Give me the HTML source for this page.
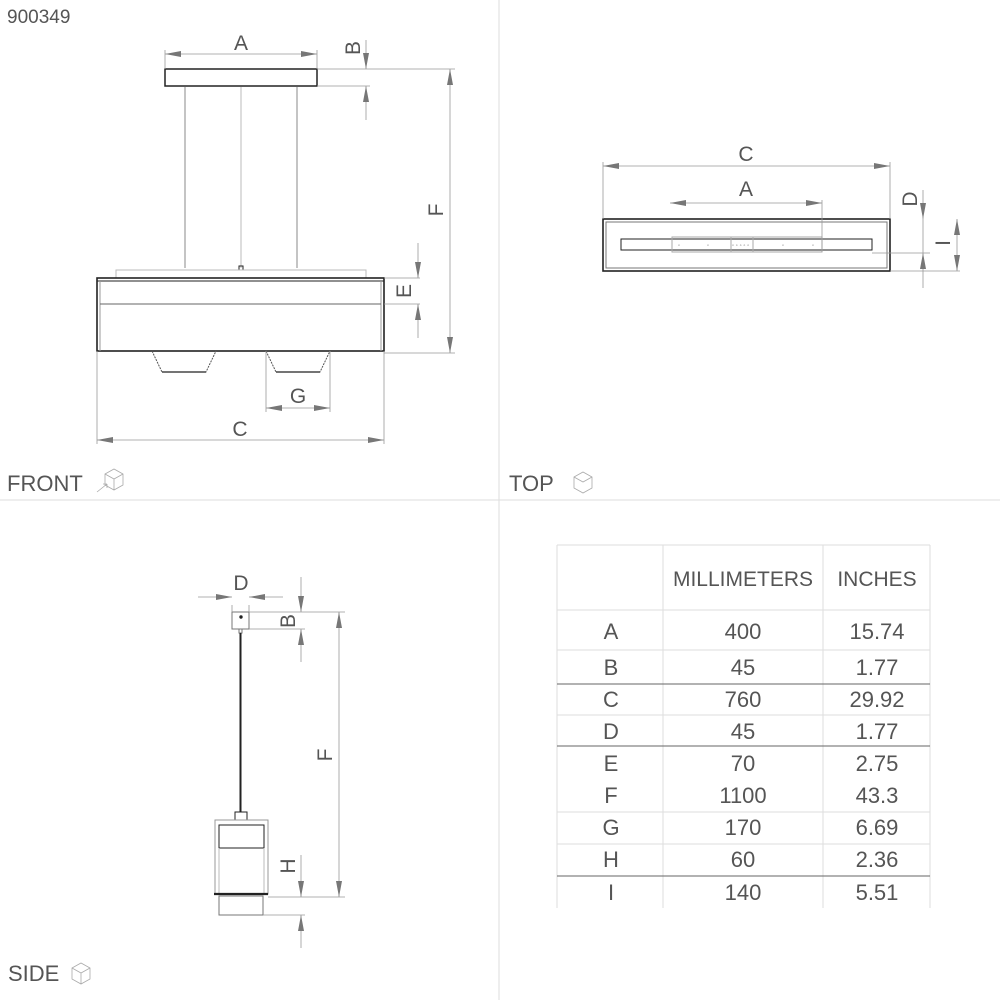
<!DOCTYPE html>
<html><head><meta charset="utf-8"><style>
html,body{margin:0;padding:0;background:#fff}
svg{display:block}
text{font-family:"Liberation Sans",sans-serif;fill:#555}
</style></head><body>
<svg width="1000" height="1000" viewBox="0 0 1000 1000" xmlns="http://www.w3.org/2000/svg">
<defs>
<marker id="ar" viewBox="0 0 16 8" refX="16" refY="4" markerWidth="16" markerHeight="8" markerUnits="userSpaceOnUse" orient="auto-start-reverse"><path d="M0,1 L16,4 L0,7 z" fill="#777"/></marker>
</defs>
<line x1="499" y1="0" x2="499" y2="1000" stroke="#ddd"/>
<line x1="0" y1="500" x2="1000" y2="500" stroke="#ddd"/>
<text x="7" y="23" font-size="19">900349</text>
<text x="7" y="491" font-size="22">FRONT</text>
<text x="509" y="491" font-size="22">TOP</text>
<text x="8" y="981" font-size="22">SIDE</text>
<g fill="none" stroke="#aaa" stroke-width="0.8">
<path d="M105,474 l9,-5 l9,5 v11 l-9,5 l-9,-5 z M105,474 l9,5 l9,-5 M114,479 v11"/>
<path d="M97,492 l10,-8 M107,484 h-4 M107,484 v4"/>
<path d="M574,477 l9,-5 l9,5 v11 l-9,5 l-9,-5 z M574,477 l9,5 l9,-5"/>
<path d="M72,968 l9,-5 l9,5 v11 l-9,5 l-9,-5 z M72,968 l9,5 l9,-5 M81,973 v11"/>
</g>

<g stroke="#222" fill="none">
<rect x="165" y="69" width="152" height="17" stroke-width="1.5"/>
<line x1="185" y1="87" x2="185" y2="268" stroke="#888"/>
<line x1="241" y1="87" x2="241" y2="268" stroke="#bbb"/>
<line x1="297" y1="87" x2="297" y2="268" stroke="#888"/>
<rect x="239" y="266" width="4" height="4" stroke-width="1"/>
<rect x="116" y="270" width="250" height="8" stroke="#bbb"/>
<rect x="97" y="278" width="287" height="73" stroke-width="1.6"/>
<line x1="97" y1="281" x2="384" y2="281" stroke-width="1"/>
<line x1="100" y1="281" x2="100" y2="351" stroke="#999"/>
<line x1="381" y1="281" x2="381" y2="351" stroke="#999"/>
<line x1="100" y1="304" x2="381" y2="304" stroke="#666"/>
<path d="M152,351 L162,372 H206 L216,351" stroke="#555" stroke-dasharray="2,1"/>
<line x1="162" y1="372" x2="206" y2="372" stroke-width="1.2"/>
<path d="M266,351 L276,372 H320 L330,351" stroke="#555" stroke-dasharray="2,1"/>
<line x1="276" y1="372" x2="320" y2="372" stroke-width="1.2"/>
</g>
<g stroke="#999" stroke-width="0.8" fill="none">
<line x1="165" y1="54" x2="317" y2="54" marker-start="url(#ar)" marker-end="url(#ar)"/>
<line x1="165" y1="50" x2="165" y2="69"/><line x1="317" y1="50" x2="317" y2="69"/>
<line x1="317" y1="69" x2="455" y2="69"/><line x1="317" y1="86" x2="370" y2="86"/>
<line x1="366" y1="40" x2="366" y2="69" marker-end="url(#ar)"/>
<line x1="366" y1="120" x2="366" y2="86" marker-end="url(#ar)"/>
<line x1="450" y1="69" x2="450" y2="353" marker-start="url(#ar)" marker-end="url(#ar)"/>
<line x1="384" y1="353" x2="455" y2="353"/>
<line x1="384" y1="278" x2="420" y2="278"/><line x1="384" y1="304" x2="420" y2="304"/>
<line x1="418" y1="243" x2="418" y2="278" marker-end="url(#ar)"/>
<line x1="418" y1="338" x2="418" y2="304" marker-end="url(#ar)"/>
<line x1="266" y1="351" x2="266" y2="412"/><line x1="330" y1="351" x2="330" y2="412"/>
<line x1="266" y1="408" x2="330" y2="408" marker-start="url(#ar)" marker-end="url(#ar)"/>
<line x1="97" y1="351" x2="97" y2="444"/><line x1="384" y1="351" x2="384" y2="444"/>
<line x1="97" y1="440" x2="384" y2="440" marker-start="url(#ar)" marker-end="url(#ar)"/>
</g>
<text x="241" y="50" font-size="21" text-anchor="middle">A</text>
<text x="0" y="0" font-size="21" text-anchor="middle" transform="translate(360,48) rotate(-90)">B</text>
<text x="0" y="0" font-size="21" text-anchor="middle" transform="translate(443,210) rotate(-90)">F</text>
<text x="0" y="0" font-size="21" text-anchor="middle" transform="translate(411,291) rotate(-90)">E</text>
<text x="298" y="403" font-size="21" text-anchor="middle">G</text>
<text x="240" y="436" font-size="21" text-anchor="middle">C</text>

<g stroke="#222" fill="none">
<rect x="603" y="219" width="287" height="52" stroke-width="1.6"/>
<rect x="606" y="222" width="281" height="46" stroke="#777"/>
<rect x="621" y="239" width="251" height="11" stroke-width="1"/>
<rect x="672" y="237" width="150" height="15" stroke="#aaa"/>
<rect x="731" y="237" width="22" height="15" stroke="#aaa"/>
</g>
<g fill="#555" font-size="6"><text x="678" y="247">◦</text><text x="707" y="247">◦</text><text x="732" y="247">◦ ◦ ◦ ◦ ◦</text><text x="782" y="247">◦</text><text x="812" y="247">◦</text></g>
<g stroke="#999" stroke-width="0.8" fill="none">
<line x1="603" y1="166" x2="890" y2="166" marker-start="url(#ar)" marker-end="url(#ar)"/>
<line x1="603" y1="162" x2="603" y2="219"/><line x1="890" y1="162" x2="890" y2="219"/>
<line x1="670" y1="203" x2="822" y2="203" marker-start="url(#ar)" marker-end="url(#ar)"/>
<line x1="822" y1="200" x2="822" y2="252"/>
<line x1="890" y1="271" x2="960" y2="271"/><line x1="872" y1="253" x2="930" y2="253"/>
<line x1="923" y1="190" x2="923" y2="219" marker-end="url(#ar)"/>
<line x1="923" y1="288" x2="923" y2="253" marker-end="url(#ar)"/>
<line x1="923" y1="219" x2="923" y2="253"/>
<line x1="957" y1="219" x2="957" y2="271" marker-start="url(#ar)" marker-end="url(#ar)"/>
</g>
<text x="746" y="161" font-size="21" text-anchor="middle">C</text>
<text x="746" y="196" font-size="21" text-anchor="middle">A</text>
<text x="0" y="0" font-size="21" text-anchor="middle" transform="translate(917,199) rotate(-90)">D</text>
<text x="0" y="0" font-size="21" text-anchor="middle" transform="translate(950,243) rotate(-90)">I</text>

<g stroke="#222" fill="none">
<rect x="232" y="612" width="17" height="17" stroke="#777"/>
<circle cx="241" cy="617" r="1.2" fill="#222"/>
<rect x="239" y="629" width="3" height="4" stroke="#777"/>
<line x1="240.5" y1="633" x2="240.5" y2="812" stroke-width="2"/>
<rect x="235" y="812" width="12" height="8" stroke-width="1"/>
<rect x="215" y="820" width="53" height="74" stroke="#999"/>
<rect x="219" y="825" width="45" height="23" stroke-width="1"/>
<line x1="219" y1="848" x2="219" y2="893" stroke="#bbb"/><line x1="264" y1="848" x2="264" y2="893" stroke="#bbb"/>
<line x1="214" y1="894" x2="268" y2="894" stroke-width="2.2"/>
<rect x="219" y="896" width="44" height="19" stroke="#777"/>
</g>
<g stroke="#999" stroke-width="0.8" fill="none">
<line x1="232" y1="605" x2="232" y2="612"/><line x1="249" y1="605" x2="249" y2="612"/>
<line x1="198" y1="597" x2="232" y2="597" marker-end="url(#ar)"/>
<line x1="283" y1="597" x2="249" y2="597" marker-end="url(#ar)"/>
<line x1="249" y1="612" x2="345" y2="612"/><line x1="249" y1="629" x2="305" y2="629"/>
<line x1="301" y1="577" x2="301" y2="612" marker-end="url(#ar)"/>
<line x1="301" y1="662" x2="301" y2="629" marker-end="url(#ar)"/>
<line x1="339" y1="612" x2="339" y2="897" marker-start="url(#ar)" marker-end="url(#ar)"/>
<line x1="268" y1="897" x2="345" y2="897"/><line x1="263" y1="915" x2="305" y2="915"/>
<line x1="301" y1="855" x2="301" y2="897" marker-end="url(#ar)"/>
<line x1="301" y1="948" x2="301" y2="915" marker-end="url(#ar)"/>
</g>
<text x="241" y="590" font-size="21" text-anchor="middle">D</text>
<text x="0" y="0" font-size="21" text-anchor="middle" transform="translate(295,621) rotate(-90)">B</text>
<text x="0" y="0" font-size="21" text-anchor="middle" transform="translate(332,755) rotate(-90)">F</text>
<text x="0" y="0" font-size="21" text-anchor="middle" transform="translate(295,866) rotate(-90)">H</text>

<g stroke="#ddd" stroke-width="1">
<line x1="557" y1="545" x2="930" y2="545"/>
<line x1="557" y1="545" x2="557" y2="908"/>
<line x1="663" y1="545" x2="663" y2="908"/>
<line x1="823" y1="545" x2="823" y2="908"/>
<line x1="930" y1="545" x2="930" y2="908"/>
<line x1="557" y1="610" x2="930" y2="610"/>
<line x1="557" y1="650" x2="930" y2="650"/>
<line x1="557" y1="715" x2="930" y2="715"/>
<line x1="557" y1="812" x2="930" y2="812"/>
<line x1="557" y1="844" x2="930" y2="844"/>
</g>
<g stroke="#666" stroke-width="1">
<line x1="557" y1="684" x2="930" y2="684"/>
<line x1="557" y1="746" x2="930" y2="746"/>
<line x1="557" y1="876" x2="930" y2="876"/>
</g>
<g font-size="22" fill="#222" text-anchor="middle">
<text x="743" y="586" font-size="21">MILLIMETERS</text><text x="877" y="586" font-size="21">INCHES</text>
<text x="611" y="639">A</text><text x="743" y="639">400</text><text x="877" y="639">15.74</text>
<text x="611" y="675">B</text><text x="743" y="675">45</text><text x="877" y="675">1.77</text>
<text x="611" y="707">C</text><text x="743" y="707">760</text><text x="877" y="707">29.92</text>
<text x="611" y="739">D</text><text x="743" y="739">45</text><text x="877" y="739">1.77</text>
<text x="611" y="771">E</text><text x="743" y="771">70</text><text x="877" y="771">2.75</text>
<text x="611" y="803">F</text><text x="743" y="803">1100</text><text x="877" y="803">43.3</text>
<text x="611" y="835">G</text><text x="743" y="835">170</text><text x="877" y="835">6.69</text>
<text x="611" y="867">H</text><text x="743" y="867">60</text><text x="877" y="867">2.36</text>
<text x="611" y="900">I</text><text x="743" y="900">140</text><text x="877" y="900">5.51</text>
</g>
</svg>
</body></html>
